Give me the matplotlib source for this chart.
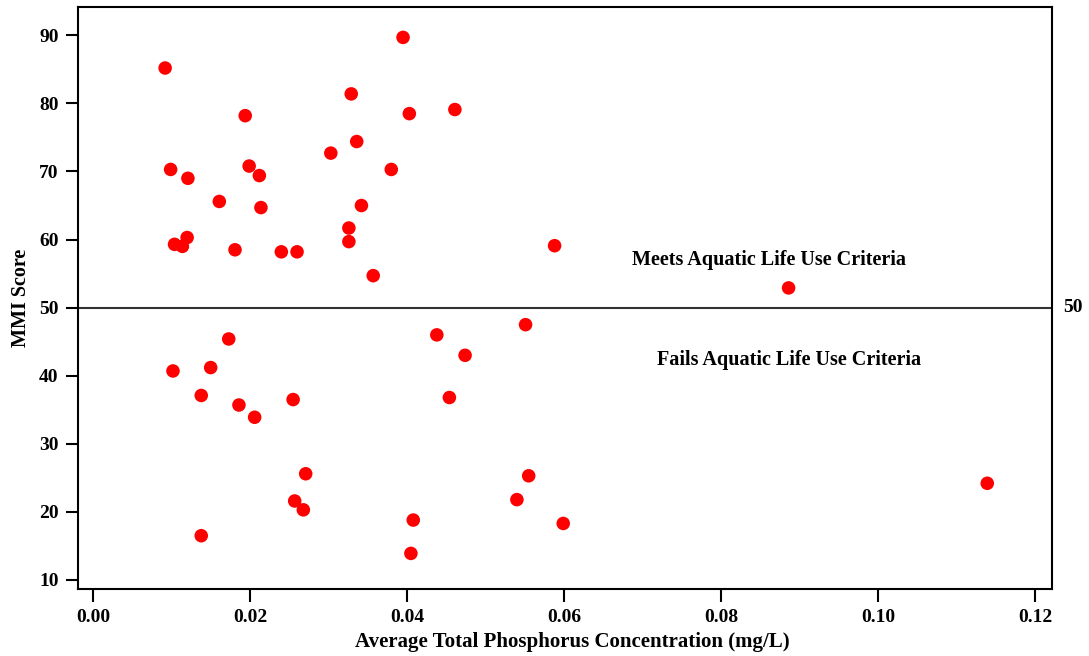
import matplotlib.pyplot as plt

# MMI score vs average total phosphorus
phosphorus = [
    0.0092, 0.0099, 0.0121, 0.0104, 0.0114, 0.0120, 0.0161, 0.0181, 0.0194, 0.0199,
    0.0212, 0.0214, 0.0240, 0.0260, 0.0303, 0.0329, 0.0336, 0.0342, 0.0326, 0.0326,
    0.0357, 0.0380, 0.0395, 0.0461, 0.0403, 0.0588, 0.0551, 0.0438, 0.0474, 0.0454,
    0.0271, 0.0555, 0.0540, 0.0408, 0.0599, 0.0405, 0.0173, 0.0102, 0.0150, 0.0138,
    0.0186, 0.0206, 0.0255, 0.0257, 0.0268, 0.0138, 0.0886, 0.1139,
]
mmi = [
    85.2, 70.3, 69.0, 59.3, 59.0, 60.3, 65.6, 58.5, 78.2, 70.8,
    69.4, 64.7, 58.2, 58.2, 72.7, 81.4, 74.4, 65.0, 61.7, 59.7,
    54.7, 70.3, 89.7, 79.1, 78.5, 59.1, 47.5, 46.0, 43.0, 36.8,
    25.6, 25.3, 21.8, 18.8, 18.3, 13.9, 45.4, 40.7, 41.2, 37.1,
    35.7, 33.9, 36.5, 21.6, 20.3, 16.5, 52.9, 24.2,
]
threshold = 50
x_ticks = [0.00, 0.02, 0.04, 0.06, 0.08, 0.10, 0.12]
y_ticks = [10, 20, 30, 40, 50, 60, 70, 80, 90]

plt.rcParams['font.family'] = ['Liberation Serif', 'DejaVu Serif']
plt.rcParams['font.weight'] = 'bold'

fig = plt.figure(figsize=(10.89, 6.56), dpi=100)
ax = fig.add_axes([0.0716, 0.1017, 0.8941, 0.8876])

ax.scatter(phosphorus, mmi, s=95, color='#ff0000', edgecolors='none', zorder=3)
ax.axhline(threshold, color='#333333', linewidth=1.5, zorder=2)

ax.set_xlim(-0.0019, 0.1221)
ax.set_ylim(8.63, 94.16)
ax.set_xticks(x_ticks)
ax.set_xticklabels([f'{t:.2f}' for t in x_ticks])
ax.set_yticks(y_ticks)
ax.tick_params(direction='out', length=9, width=1.5, labelsize=14, pad=5)

for side in ['left', 'right', 'top', 'bottom']:
    ax.spines[side].set_linewidth(1.5)

ax.set_xlabel('Average Total Phosphorus Concentration (mg/L)', fontsize=15,
              fontweight='bold')
ax.xaxis.set_label_coords(0.508, -0.074)
ax.set_ylabel('MMI Score', fontsize=14.5, fontweight='bold', labelpad=6)

ax.text(0.0861, 57.0, 'Meets Aquatic Life Use Criteria', ha='center', va='center',
        fontsize=14.5, fontweight='bold')
ax.text(0.0887, 42.3, 'Fails Aquatic Life Use Criteria', ha='center', va='center',
        fontsize=14.5, fontweight='bold')
ax.text(1.012, threshold, '50', transform=ax.get_yaxis_transform(), ha='left',
        va='center', fontsize=14, fontweight='bold', clip_on=False)

fig.savefig('out.png', dpi=100)
